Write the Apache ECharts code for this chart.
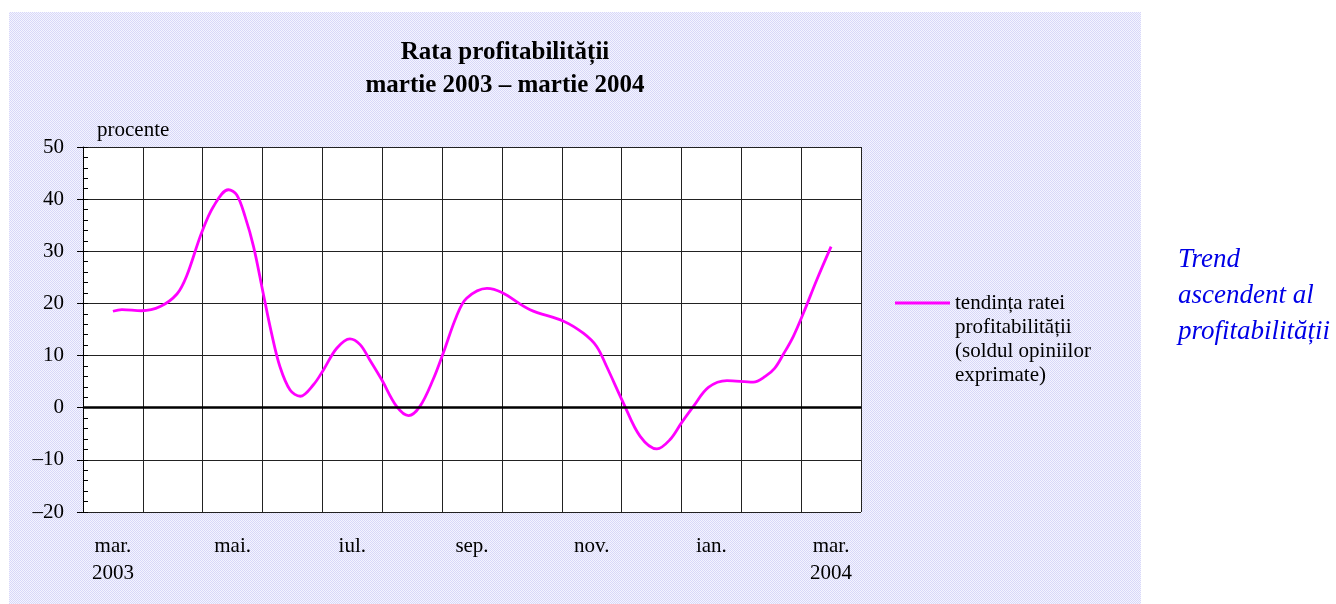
<!DOCTYPE html>
<html>
<head>
<meta charset="utf-8">
<script src="https://cdn.jsdelivr.net/npm/echarts@6/dist/echarts.min.js"></script>
<style>
html,body{margin:0;padding:0;background:#fff;}
#c{width:1336px;height:604px;}
</style>
</head>
<body>
<div id="c"></div>
<script>
// Month categories (mar. 2003 – mar. 2004)
var categories = ['mar.\n2003','apr.','mai.','iun.','iul.','aug.','sep.','oct.','nov.','dec.','ian.','feb.','mar.\n2004'];
// Y axis range / ticks
var yMin = -20, yMax = 50, yStep = 10;
// Trend series: positions in months (0.5 = centre of mar. 2003) and values (%)
var trendX = [0.5,0.65,0.98,1.29,1.57,1.73,1.98,2.18,2.43,2.57,2.71,2.85,3.01,3.15,3.29,3.46,3.63,3.85,4.02,4.24,4.46,4.63,4.79,4.99,5.24,5.44,5.63,5.85,6.02,6.24,6.41,6.75,7.0,7.47,8.03,8.36,8.58,8.75,9.03,9.31,9.59,9.81,10.0,10.2,10.45,10.76,11.2,11.4,11.56,11.7,11.87,12.04,12.26,12.5];
var trendY = [18.5,18.8,18.6,19.4,21.8,25.2,33.5,38.6,41.8,40.8,36.6,30.9,22,14.3,7.9,3.4,2.2,4.4,7.3,11.4,13.2,12.1,9.2,5.4,0.25,-1.5,0.25,5.4,10.5,17.5,21,22.9,22.1,18.8,16.6,14.3,11.8,7.9,0.9,-5.5,-7.9,-6.1,-2.9,0.25,3.9,5.2,4.9,6,7.6,10.2,13.7,18.2,24.5,30.9];
var seriesName = 'tendința ratei\nprofitabilității\n(soldul opiniilor\nexprimate)';
var titleText = 'Rata profitabilității\nmartie 2003 – martie 2004';
var noteText = 'Trend\nascendent al\nprofitabilității';

var FONT = '"Liberation Serif","Times New Roman",serif';

// dithered lavender background pattern
var pc = document.createElement('canvas');
pc.width = 2; pc.height = 2;
var pctx = pc.getContext('2d');
pctx.fillStyle = '#f4f4ff'; pctx.fillRect(0,0,2,2);
pctx.fillStyle = '#d8d8f8'; pctx.fillRect(0,0,1,1); pctx.fillRect(1,1,1,1);

var chart = echarts.init(document.getElementById('c'), null, {renderer:'canvas'});
var pts = trendX.map(function(x,i){return [x, trendY[i]];});

chart.setOption({
  animation: false,
  backgroundColor: '#ffffff',
  graphic: [
    {type:'rect', z:-10, shape:{x:9,y:12,width:1132,height:592}, style:{fill:{image:pc, repeat:'repeat'}}, silent:true},
    {type:'rect', z:-9, shape:{x:83,y:147,width:778,height:365}, style:{fill:'#ffffff'}, silent:true},
    {type:'text', left:1178, top:242, style:{text:noteText, font:'italic 27px '+FONT, fill:'#0000e6', lineHeight:36}}
  ],
  title: {
    text: titleText,
    left: 500, top: 31, textAlign: 'center',
    textStyle: {fontFamily: FONT, fontWeight:'bold', fontSize:25, lineHeight:33, color:'#000'}
  },
  legend: {
    left: 895, top: 219, padding: 0,
    orient: 'vertical',
    itemWidth: 55, itemHeight: 3, itemGap: 0,
    icon: 'rect',
    data: [{name: seriesName, icon:'rect'}],
    formatter: function(n){ return '\n\n\n' + n; },
    textStyle: {fontFamily: FONT, fontSize:21, lineHeight:24, color:'#000'}
  },
  grid: {left:83, top:147, width:778, height:365, show:false},
  xAxis: [
    {
      type:'category', data:categories, boundaryGap:true,
      axisLine:{show:true, lineStyle:{color:'#000', width:1}},
      axisTick:{show:false},
      axisLabel:{interval:1, fontFamily:FONT, fontSize:21, color:'#000', lineHeight:27, margin:21},
      splitLine:{show:true, interval:0, lineStyle:{color:'#222', width:1}}
    },
    {type:'value', min:0, max:13, show:false}
  ],
  yAxis: [
    {
      type:'value', min:yMin, max:yMax, interval:yStep,
      name:'procente', nameLocation:'end', nameGap:6,
      nameTextStyle:{fontFamily:FONT, fontSize:21, color:'#000', align:'left', padding:[0,0,0,14]},
      axisLine:{show:true, onZero:false, lineStyle:{color:'#000', width:1}},
      axisTick:{show:true, inside:false, length:6, lineStyle:{color:'#000'}},
      axisLabel:{fontFamily:FONT, fontSize:21, color:'#000', margin:19,
        formatter:function(v){return v<0 ? '\u2013'+Math.abs(v) : String(v);}},
      splitLine:{show:true, lineStyle:{color:'#222', width:1}}
    },
    {
      type:'value', min:yMin, max:yMax, interval:2, position:'left',
      axisLine:{show:false}, axisLabel:{show:false}, splitLine:{show:false},
      axisTick:{show:true, inside:true, length:5, lineStyle:{color:'#000'}}
    }
  ],
  series: [{
    name: seriesName,
    type:'line', xAxisIndex:1, yAxisIndex:0,
    data: pts, smooth:0.35, symbol:'none',
    lineStyle:{color:'#ff00ff', width:2.8},
    itemStyle:{color:'#ff00ff'},
    markLine:{silent:true, symbol:'none', label:{show:false},
      lineStyle:{color:'#000', width:2.5, type:'solid'},
      data:[{yAxis:0}]},
    z:3
  }]
});
</script>
</body>
</html>
